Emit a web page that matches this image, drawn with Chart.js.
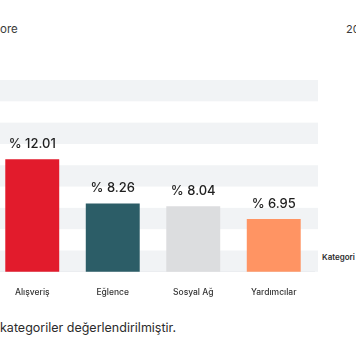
<!DOCTYPE html>
<html>
<head>
<meta charset="utf-8">
<script src="https://cdn.jsdelivr.net/npm/chart.js@4"></script>
<style>
  html, body { margin:0; padding:0; background:#ffffff; overflow:hidden; width:356px; height:364px; }
  body { position:relative; font-family: Inter, "Noto Sans", sans-serif; color:#2b2b2b; }
  #wrap { position:absolute; left:-8px; top:0; width:364px; height:364px; }
  .t { position:absolute; white-space:nowrap; }
</style>
</head>
<body>
<div class="t" style="left:0px; top:22px; font-size:11.5px; color:#3a3a3a;">ore</div>
<div class="t" style="left:346px; top:22px; font-size:11px; color:#3a3a3a;">2023</div>
<div class="t" style="left:322px; top:252px; font-size:8px; font-weight:600; color:#2b2b2b;">Kategori</div>
<div class="t" style="left:0px; top:320px; font-size:12.5px; color:#2b2b2b;">kategoriler değerlendirilmiştir.</div>
<div id="wrap"><canvas id="c" width="364" height="364"></canvas></div>
<script>
const categories = ['Alışveriş', 'Eğlence', 'Sosyal Ağ', 'Yardımcılar'];
const values = [12.01, 8.26, 8.04, 6.95];
const valueLabels = ['% 12.01', '% 8.26', '% 8.04', '% 6.95'];
const barColors = ['#e21b2c', '#2c5d67', '#dcdddf', '#ff9463'];
const yMin = 2.5;
const yStep = 1.8;
const bandCount = 9;

const bandsPlugin = {
  id: 'bands',
  beforeDatasetsDraw(chart) {
    const { ctx, chartArea, scales } = chart;
    const y = scales.y;
    ctx.save();
    ctx.fillStyle = '#f1f3f5';
    for (let i = 0; i < bandCount; i += 2) {
      const y0 = y.getPixelForValue(yMin + i * yStep);
      const y1 = y.getPixelForValue(yMin + (i + 1) * yStep);
      ctx.fillRect(chartArea.left, y1, chartArea.right + 4 - chartArea.left, y0 - y1);
    }
    ctx.restore();
  }
};

const labelsPlugin = {
  id: 'vlabels',
  afterDatasetsDraw(chart) {
    const { ctx } = chart;
    const meta = chart.getDatasetMeta(0);
    ctx.save();
    ctx.font = '500 13px Inter, "Noto Sans", sans-serif';
    ctx.fillStyle = '#1f1f1f';
    ctx.textAlign = 'center';
    ctx.textBaseline = 'bottom';
    meta.data.forEach((bar, i) => {
      ctx.fillText(valueLabels[i], bar.x, bar.y - 9);
    });
    ctx.restore();
  }
};

new Chart(document.getElementById('c'), {
  type: 'bar',
  data: {
    labels: categories,
    datasets: [{
      data: values,
      backgroundColor: barColors,
      borderWidth: 0,
      categoryPercentage: 1,
      barPercentage: 0.67
    }]
  },
  options: {
    responsive: false,
    devicePixelRatio: 1,
    animation: false,
    layout: { padding: { top: 80, right: 42, left: 0, bottom: 58 } },
    plugins: { legend: { display: false }, tooltip: { enabled: false } },
    scales: {
      y: { display: false, min: yMin, max: yMin + bandCount * yStep },
      x: {
        grid: { display: false },
        border: { display: true, color: '#d3d5d8', width: 1 },
        ticks: { padding: 8, color: '#333333', font: { family: 'Inter, "Noto Sans", sans-serif', size: 8.5, weight: '500' } }
      }
    }
  },
  plugins: [bandsPlugin, labelsPlugin]
});
</script>
</body>
</html>
